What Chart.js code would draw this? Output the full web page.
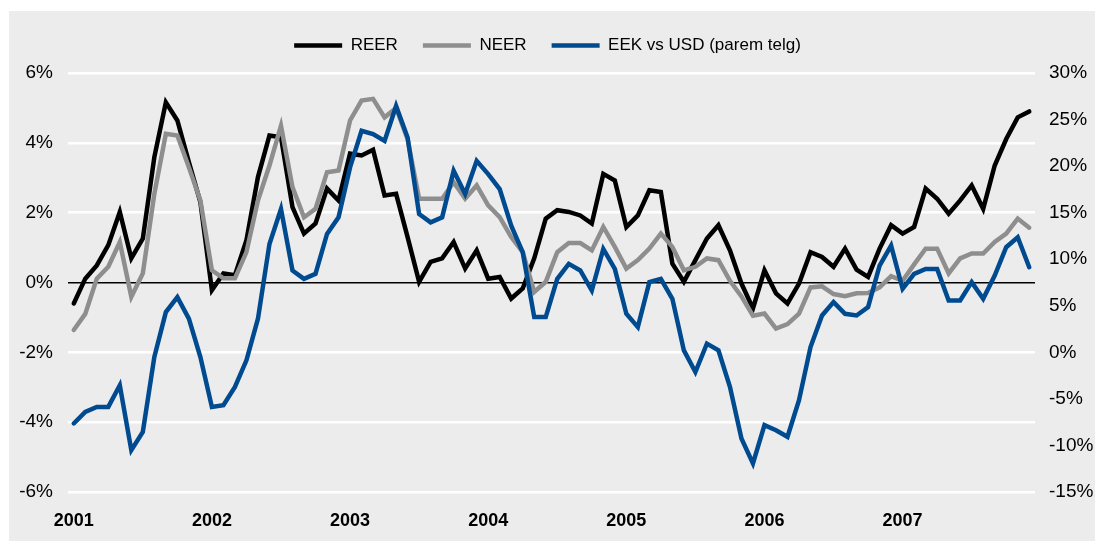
<!DOCTYPE html>
<html>
<head>
<meta charset="utf-8">
<script src="https://cdn.jsdelivr.net/npm/chart.js@4.4.1/dist/chart.umd.min.js"></script>
<style>
  html, body { margin: 0; padding: 0; background: #fff; }
  #wrap { width: 1095px; height: 541px; }
</style>
</head>
<body>
<div id="wrap"><canvas id="myChart" width="1095" height="541"></canvas></div>
<script>
const years = ['2001', '2002', '2003', '2004', '2005', '2006', '2007'];

// monthly, Jan 2001 .. Dec 2007 (left axis, %)
const reer = [
  -0.6, 0.11, 0.49, 1.07, 2.02, 0.69, 1.26, 3.59, 5.16, 4.64, 3.45, 2.3,
  -0.22, 0.26, 0.21, 1.21, 3.02, 4.21, 4.16, 2.16, 1.4, 1.69, 2.69, 2.35,
  3.69, 3.64, 3.8, 2.49, 2.54, 1.3, 0.02, 0.59, 0.69, 1.16, 0.4, 0.92,
  0.11, 0.16, -0.46, -0.17, 0.69, 1.83, 2.07, 2.02, 1.92, 1.69, 3.11, 2.92,
  1.59, 1.92, 2.64, 2.59, 0.54, 0.02, 0.64, 1.26, 1.64, 0.92, -0.03, -0.74,
  0.35, -0.31, -0.6, -0.03, 0.87, 0.73, 0.45, 0.97, 0.37, 0.16, 0.97, 1.64,
  1.4, 1.59, 2.69, 2.4, 1.97, 2.35, 2.78, 2.11, 3.35, 4.11, 4.73, 4.9
];
const neer = [
  -1.36, -0.9, 0.11, 0.45, 1.16, -0.41, 0.26, 2.54, 4.26, 4.21, 3.3, 2.35,
  0.35, 0.12, 0.12, 0.87, 2.35, 3.35, 4.49, 2.73, 1.87, 2.11, 3.16, 3.21,
  4.64, 5.21, 5.26, 4.73, 5.0, 4.1, 2.4, 2.4, 2.4, 2.87, 2.4, 2.78,
  2.21, 1.87, 1.3, 0.87, -0.27, 0.02, 0.87, 1.13, 1.13, 0.92, 1.59, 1.02,
  0.4, 0.64, 0.97, 1.4, 1.02, 0.35, 0.45, 0.69, 0.64, 0.05, -0.4, -0.95,
  -0.89, -1.32, -1.19, -0.89, -0.14, -0.11, -0.33, -0.39, -0.31, -0.3, -0.14, 0.18,
  0.05, 0.52, 0.97, 0.97, 0.26, 0.69, 0.83, 0.83, 1.16, 1.4, 1.83, 1.57
];
// right axis, %
const eekUsd = [
  -7.64, -6.39, -5.86, -5.86, -3.54, -10.5, -8.54, -0.5, 4.32, 5.93, 3.61, -0.5,
  -5.86, -5.68, -3.71, -0.86, 3.61, 11.64, 15.4, 8.79, 7.89, 8.43, 12.71, 14.5,
  19.86, 23.79, 23.43, 22.7, 26.46, 23.07, 14.86, 13.96, 14.5, 19.5, 17.0, 20.57,
  19.14, 17.54, 13.6, 10.75, 3.79, 3.79, 7.89, 9.5, 8.79, 6.64, 11.1, 8.96,
  4.14, 2.71, 7.54, 7.89, 5.75, 0.21, -2.11, 0.93, 0.21, -3.71, -9.25, -11.93,
  -7.82, -8.36, -9.07, -5.14, 0.57, 3.96, 5.39, 4.14, 3.96, 4.86, 9.32, 11.46,
  6.82, 8.43, 8.96, 8.96, 5.57, 5.57, 7.54, 5.75, 8.25, 11.29, 12.36, 9.14
];

const labels = [];
years.forEach(y => {
  for (let m = 1; m <= 12; m++) labels.push(y + '-' + (m < 10 ? '0' + m : m));
});

const font = 'Liberation Sans, Arial, Helvetica, sans-serif';

let lineSet = (label, data, color, axis, order) => {
  return {
    label: label,
    data: data,
    borderColor: color,
    backgroundColor: color,
    borderWidth: 4.5,
    borderCapStyle: 'round',
    pointRadius: 0,
    pointHoverRadius: 0,
    tension: 0,
    fill: false,
    yAxisID: axis,
    order: order,
  };
};

const bgPlugin = {
  id: 'bg',
  beforeDraw(chart) {
    const c = chart.ctx;
    c.save();
    c.fillStyle = '#ffffff';
    c.fillRect(0, 0, chart.width, chart.height);
    c.fillStyle = '#ececec';
    c.fillRect(9, 11, chart.width - 9, chart.height - 11);
    c.restore();
  },
};

// a bit of room between legend and plot
const legendGap = {
  id: 'legendGap',
  beforeInit(chart) {
    const fit = chart.legend.fit;
    chart.legend.fit = function() {
      fit.bind(chart.legend)();
      this.height += 9;
    };
  },
};

const ctx = document.getElementById('myChart');
new Chart(ctx, {
  type: 'line',
  data: {
    labels: labels,
    datasets: [
      lineSet('REER', reer, '#000000', 'y', 2),
      lineSet('NEER', neer, '#8e8e8e', 'y', 1),
      lineSet('EEK vs USD (parem telg)', eekUsd, '#004a90', 'y1', 0),
    ],
  },
  options: {
    responsive: false,
    animation: false,
    layout: { padding: { top: 12, left: 0, right: 0, bottom: 0 } },
    plugins: {
      tooltip: { enabled: false },
      legend: {
        position: 'top',
        labels: {
          usePointStyle: true,
          pointStyle: 'line',
          pointStyleWidth: 48,
          padding: 25,
          color: '#000',
          font: { family: font, size: 17 },
          sort: (a, b) => a.datasetIndex - b.datasetIndex,
        },
      },
    },
    scales: {
      x: {
        type: 'category',
        offset: true,
        grid: { display: false },
        border: { display: false },
        ticks: {
          autoSkip: false,
          maxRotation: 0,
          padding: 10,
          color: '#000',
          font: { family: font, size: 18, weight: 'bold' },
          callback: function(value, index) {
            return index % 12 === 0 ? this.getLabelForValue(value).slice(0, 4) : '';
          },
        },
        afterFit: s => { s.height = 49; },
      },
      y: {
        position: 'left',
        min: -6,
        max: 6,
        border: { display: false },
        grid: {
          drawTicks: false,
          color: c => (c.tick.value === 0 ? '#000000' : '#ffffff'),
          lineWidth: c => (c.tick.value === 0 ? 1.5 : 2.5),
        },
        ticks: {
          stepSize: 2,
          padding: 15,
          color: '#000',
          font: { family: font, size: 19 },
          callback: v => v + '%',
        },
        afterFit: s => { s.width = 68; },
      },
      y1: {
        position: 'right',
        min: -15,
        max: 30,
        border: { display: false },
        grid: { display: false, drawTicks: false },
        ticks: {
          stepSize: 5,
          padding: 14,
          color: '#000',
          font: { family: font, size: 19 },
          callback: v => v + '%',
        },
        afterFit: s => { s.width = 60; },
      },
    },
  },
  plugins: [bgPlugin, legendGap],
});
</script>
</body>
</html>
